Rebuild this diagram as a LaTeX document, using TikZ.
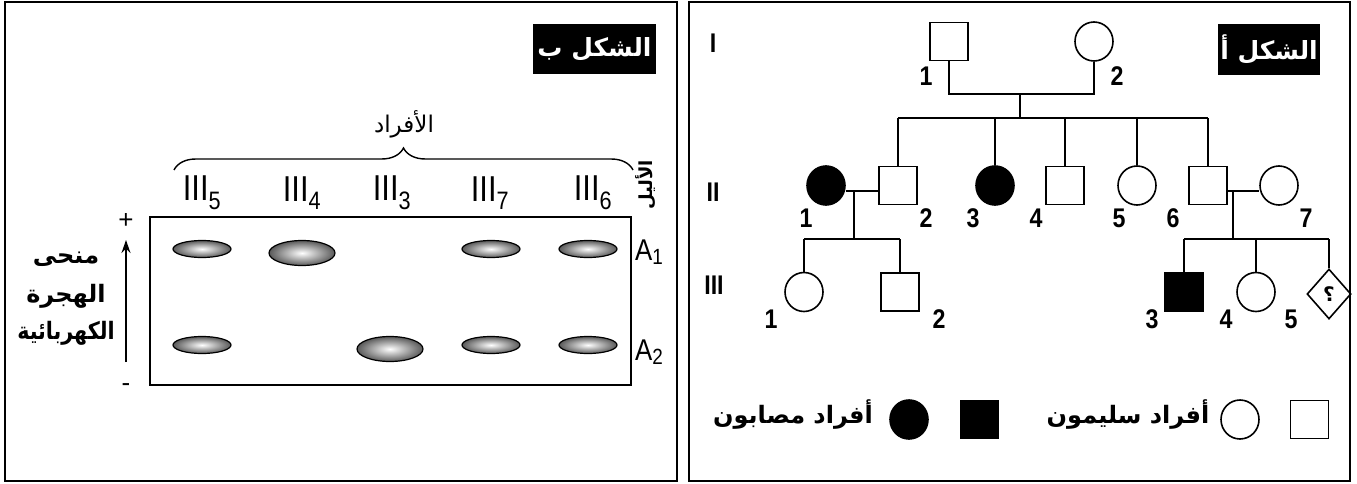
\documentclass[tikz,border=0pt]{standalone}
\usepackage{fontspec}
\setmainfont{Liberation Sans}
\newfontfamily\ar[Script=Arabic]{DejaVu Sans}
\TeXXeTstate=1
\usetikzlibrary{shapes.geometric,decorations.pathreplacing,arrows.meta}
\newcommand{\narrow}[1]{\scalebox{0.86}[1]{#1}}
\tikzset{
  frame/.style={draw, line width=2.2pt},
  ped/.style={line width=1.6pt},
  male/.style={draw, rectangle, minimum width=38pt, minimum height=38pt, inner sep=0pt, line width=1.6pt},
  female/.style={draw, ellipse, minimum width=38pt, minimum height=39pt, inner sep=0pt, line width=1.6pt},
  aff/.style={fill=black},
  num/.style={font=\fontsize{27}{27}\selectfont\bfseries, inner sep=0pt},
  gen/.style={font=\fontsize{27}{27}\selectfont\bfseries, inner sep=0pt},
  title/.style={fill=black, text=white, font=\fontsize{25}{25}\selectfont\ar\bfseries, inner sep=0pt},
  artxt/.style={font=\fontsize{24}{24}\selectfont\ar\bfseries, inner sep=0pt},
  lane/.style={font=\fontsize{36}{36}\selectfont, inner sep=0pt},
  allele/.style={font=\fontsize{30}{30}\selectfont, inner sep=0pt},
  band/.style={draw, line width=1.2pt, ellipse, inner sep=0pt, minimum width=58pt, minimum height=17pt, inner color=white, outer color=gray!70!black},
  bandbig/.style={band, minimum width=66pt, minimum height=25pt}
}
\begin{document}
\begin{tikzpicture}[x=1pt,y=-1pt]
\useasboundingbox (0,0) rectangle (1357,484);
% ---------- panels
\draw[frame] (5,2) rectangle (677,481);
\draw[frame] (689,2) rectangle (1350,481);

% ================= LEFT PANEL (shakl b)
\node[title, minimum width=123pt, minimum height=50pt] (tb) at (594.5,49) {\beginR الشكل ب\endR};
\node[font=\fontsize{23}{23}\selectfont\ar, inner sep=0pt] (afrad) at (404,124) {\beginR الأفراد\endR};
\coordinate (brL) at (174,170);
\coordinate (brR) at (633,170);
\draw[decorate, decoration={brace, amplitude=22pt}, line width=1.4pt] (brL) -- (brR);
\node[lane] (l5) at (202,193) {\narrow{III\textsubscript{5}}};
\node[lane] (l4) at (302,193) {\narrow{III\textsubscript{4}}};
\node[lane] (l3) at (392,193) {\narrow{III\textsubscript{3}}};
\node[lane] (l7) at (490,193) {\narrow{III\textsubscript{7}}};
\node[lane] (l6) at (593,193) {\narrow{III\textsubscript{6}}};
\node[font=\fontsize{18}{18}\selectfont\ar\bfseries, inner sep=0pt, rotate=90] (alil) at (646,185) {\beginR الأليل\endR};
\draw[line width=1.5pt] (150,217) rectangle (631,385);
\node[font=\fontsize{26}{26}\selectfont, inner sep=0pt] (plus) at (126,221) {+};
\node[font=\fontsize{26}{26}\selectfont, inner sep=0pt] (minus) at (126,388) {-};
\coordinate (arB) at (126,362);
\coordinate (arT) at (126,240);
\draw[line width=1.6pt, -{Stealth[length=13pt,width=9pt]}] (arB) -- (arT);
\node[artxt] (t1) at (66,259) {\beginR منحى\endR};
\node[artxt] (t2) at (66,296) {\beginR الهجرة\endR};
\node[artxt] (t3) at (66,333) {\narrow{\beginR الكهربائية\endR}};
\node[band] (b51) at (202,249) {};
\node[bandbig] (b41) at (302,253) {};
\node[band] (b71) at (491,249) {};
\node[band] (b61) at (588,249) {};
\node[band] (b52) at (202,345) {};
\node[bandbig] (b32) at (390,349) {};
\node[band] (b72) at (491,345) {};
\node[band] (b62) at (588,345) {};
\node[allele, anchor=west] (a1) at (635,252) {\narrow{A\raisebox{-4pt}{\fontsize{22}{22}\selectfont 1}}};
\node[allele, anchor=west] (a2) at (635,352) {\narrow{A\raisebox{-4pt}{\fontsize{22}{22}\selectfont 2}}};

% ================= RIGHT PANEL (shakl a)
\node[title, minimum width=102pt, minimum height=51pt] (ta) at (1269,49.5) {\beginR الشكل أ\endR};
\node[gen] (gI) at (713,43) {\narrow{I}};
\node[gen] (gII) at (713,192) {\narrow{II}};
\node[gen] (gIII) at (714,285) {\narrow{III}};
% generation I
\node[male] (I1) at (949,41.5) {};
\node[female] (I2) at (1094,41.5) {};
\node[num] at (926,76) {\narrow{1}};
\node[num] at (1117,76) {\narrow{2}};
\coordinate (m1) at (1020,94);
\draw[ped] (I1.south) |- (m1) -| (I2.south);
\coordinate (s2L) at (898,118);
\coordinate (s2R) at (1208,118);
\draw[ped] (m1) -- (m1 |- s2L);
\draw[ped] (s2L) -- (s2R);
% generation II
\node[female, aff] (II1) at (826,185.5) {};
\node[male] (II2) at (898,185.5) {};
\node[female, aff] (II3) at (995,185.5) {};
\node[male] (II4) at (1065,185.5) {};
\node[female] (II5) at (1137,185.5) {};
\node[male] (II6) at (1208,185.5) {};
\node[female] (II7) at (1279,185.5) {};
\foreach \n in {II2,II3,II4,II5,II6} \draw[ped] (\n.north) -- (\n.north |- s2L);
\node[num] at (806,218) {\narrow{1}};
\node[num] at (926,218) {\narrow{2}};
\node[num] at (973,218) {\narrow{3}};
\node[num] at (1036,218) {\narrow{4}};
\node[num] at (1119,218) {\narrow{5}};
\node[num] at (1173,218) {\narrow{6}};
\node[num] at (1306,218) {\narrow{7}};
\coordinate (m2) at (854,191);
\coordinate (m3) at (1233,191);
\draw[ped] (m2 -| II1.east) -- (m2 -| II2.west);
\draw[ped] (m3 -| II6.east) -- (m3 -| II7.west);
% generation III
\node[female] (III1) at (804,292) {};
\node[male] (III2) at (900,292) {};
\node[male, aff] (III3) at (1184,292) {};
\node[female] (III4) at (1256,292) {};
\node[diamond, draw, line width=1.6pt, inner sep=0pt, minimum width=44pt, minimum height=50pt, font=\fontsize{20}{20}\selectfont\ar\bfseries] (III5) at (1329,294) {؟};
\coordinate (s3L) at (804,239);
\coordinate (s3R) at (1329,239);
\draw[ped] (m2) -- (m2 |- s3L);
\draw[ped] (s3L) -- (s3L -| III2.north);
\draw[ped] (m3) -- (m3 |- s3L);
\draw[ped] (s3L -| III3.north) -- (s3R);
\foreach \n in {III1,III2,III3,III4,III5} \draw[ped] (\n.north) -- (\n.north |- s3L);
\node[num] at (771,319) {\narrow{1}};
\node[num] at (939,319) {\narrow{2}};
\node[num] at (1152,319) {\narrow{3}};
\node[num] at (1226,319) {\narrow{4}};
\node[num] at (1291,319) {\narrow{5}};
% legend
\node[male] (Lm) at (1309.5,419.5) {};
\node[female] (Lf) at (1240,419.5) {};
\node[artxt] (Lt1) at (1128,415) {\beginR أفراد سليمون\endR};
\node[male, aff] (Lam) at (979.5,419.5) {};
\node[female, aff] (Laf) at (909,419.5) {};
\node[artxt] (Lt2) at (793,415) {\beginR أفراد مصابون\endR};
\end{tikzpicture}
\end{document}
